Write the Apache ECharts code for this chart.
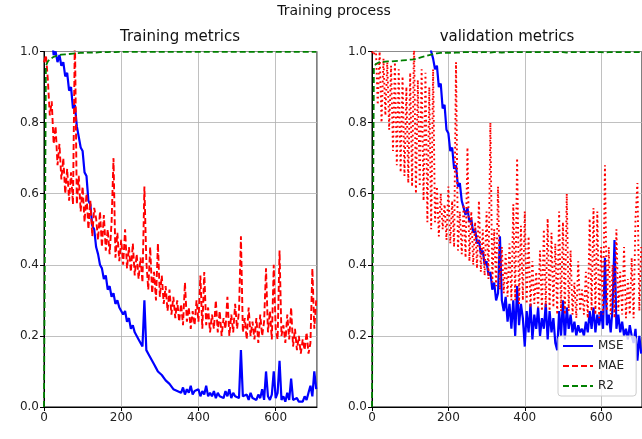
<!DOCTYPE html>
<html>
<head>
<meta charset="utf-8">
<script src="https://cdn.jsdelivr.net/npm/echarts@6/dist/echarts.min.js"></script>
<style>
html, body { margin: 0; padding: 0; background: #fff; }
#chart { width: 642px; height: 439px; }
</style>
</head>
<body>
<div id="chart"></div>
<script>
// one value every 5 epochs (rows of 10 = 50 epochs)
const epochStep = 5

const trainMse = [
  1.6, 1.4, 1.25, 1.12, 1.04, 0.99, 1.0, 0.97, 0.99, 0.96,
  0.97, 0.93, 0.94, 0.89, 0.90, 0.84, 0.85, 0.79, 0.79, 0.73,
  0.72, 0.66, 0.65, 0.58, 0.57, 0.51, 0.50, 0.45, 0.43, 0.40,
  0.39, 0.36, 0.37, 0.33, 0.34, 0.31, 0.32, 0.29, 0.30, 0.28,
  0.28, 0.26, 0.27, 0.24, 0.25, 0.22, 0.23, 0.21, 0.21, 0.19,
  0.19, 0.17, 0.30, 0.16, 0.15, 0.14, 0.13, 0.12, 0.11, 0.10,
  0.10, 0.09, 0.085, 0.075, 0.07, 0.065, 0.06, 0.05, 0.055, 0.045,
  0.05, 0.04, 0.055, 0.035, 0.05, 0.04, 0.06, 0.035, 0.045, 0.04,
  0.05, 0.03, 0.045, 0.035, 0.06, 0.03, 0.04, 0.03, 0.045, 0.025,
  0.04, 0.03, 0.035, 0.025, 0.045, 0.03, 0.05, 0.025, 0.04, 0.03,
  0.035, 0.025, 0.16, 0.03, 0.025, 0.035, 0.02, 0.04, 0.025, 0.03,
  0.02, 0.035, 0.025, 0.05, 0.02, 0.10, 0.03, 0.02, 0.035, 0.10,
  0.025, 0.04, 0.13, 0.02, 0.03, 0.015, 0.04, 0.02, 0.08, 0.02,
  0.015, 0.025, 0.015, 0.02, 0.015, 0.03, 0.02, 0.04, 0.06, 0.03,
  0.10, 0.05
]
const trainMae = [
  0.97, 0.99, 0.92, 0.82, 0.86, 0.74, 0.79, 0.68, 0.74, 0.64,
  0.70, 0.60, 0.67, 0.58, 0.66, 0.57, 1.05, 0.57, 0.65, 0.55,
  0.62, 0.52, 0.60, 0.50, 0.58, 0.48, 0.56, 0.53, 0.47, 0.55,
  0.45, 0.54, 0.44, 0.50, 0.43, 0.52, 0.70, 0.42, 0.49, 0.41,
  0.47, 0.40, 0.50, 0.39, 0.45, 0.38, 0.46, 0.37, 0.43, 0.36,
  0.42, 0.35, 0.62, 0.41, 0.33, 0.45, 0.32, 0.38, 0.30, 0.46,
  0.31, 0.37, 0.29, 0.34, 0.27, 0.33, 0.26, 0.31, 0.25, 0.30,
  0.24, 0.29, 0.23, 0.35, 0.24, 0.28, 0.22, 0.27, 0.23, 0.30,
  0.24, 0.37, 0.22, 0.38, 0.23, 0.28, 0.21, 0.26, 0.22, 0.30,
  0.21, 0.27, 0.20, 0.25, 0.22, 0.31, 0.20, 0.26, 0.21, 0.29,
  0.22, 0.27, 0.48, 0.21, 0.25, 0.19, 0.28, 0.20, 0.24, 0.19,
  0.25, 0.18, 0.26, 0.20, 0.24, 0.39, 0.21, 0.27, 0.19, 0.40,
  0.22, 0.19, 0.44, 0.20, 0.23, 0.18, 0.26, 0.19, 0.28, 0.17,
  0.22, 0.16, 0.20, 0.15, 0.19, 0.16, 0.21, 0.15, 0.18, 0.39,
  0.22, 0.30
]
const trainR2 = [
  0, 0.96, 0.972, 0.978, 0.982, 0.985, 0.987, 0.989, 0.99, 0.991,
  0.992, 0.992, 0.993, 0.993, 0.994, 0.994, 0.995, 0.995, 0.995, 0.996,
  0.996, 0.996, 0.996, 0.997, 0.997, 0.997, 0.997, 0.997, 0.998, 0.998,
  0.998, 0.998, 0.998, 0.998, 0.998, 0.999, 0.998, 0.998, 0.999, 0.999,
  0.999, 0.999, 0.999, 0.999, 0.999, 0.999, 0.999, 0.999, 0.999, 0.999,
  0.999, 0.999, 0.998, 0.999, 0.999, 0.999, 0.999, 0.999, 0.999, 0.999,
  0.999, 0.999, 0.999, 0.999, 0.999, 0.999, 0.999, 0.999, 0.999, 0.999,
  0.999, 0.999, 0.999, 0.999, 0.999, 0.999, 0.999, 0.999, 0.999, 0.999,
  0.999, 0.999, 0.999, 0.999, 0.999, 0.999, 0.999, 0.999, 0.999, 0.999,
  0.999, 0.999, 0.999, 0.999, 0.999, 0.999, 0.999, 0.999, 0.999, 0.999,
  0.999, 0.999, 0.998, 0.999, 0.999, 0.999, 0.999, 0.999, 0.999, 0.999,
  0.999, 0.999, 0.999, 0.999, 0.999, 0.999, 0.999, 0.999, 0.999, 0.999,
  0.999, 0.999, 0.998, 0.999, 0.999, 0.999, 0.999, 0.999, 0.999, 0.999,
  0.999, 0.999, 0.999, 0.999, 0.999, 0.999, 0.999, 0.999, 0.999, 0.999,
  0.999, 0.999
]

const valMse = [
  2.2, 2.1, 2.0, 1.95, 1.9, 1.85, 1.8, 1.75, 1.7, 1.65,
  1.6, 1.57, 1.53, 1.5, 1.46, 1.43, 1.4, 1.37, 1.34, 1.31,
  1.28, 1.25, 1.22, 1.2, 1.17, 1.14, 1.12, 1.09, 1.07, 1.05,
  1.03, 1.0, 0.98, 0.95, 0.96, 0.90, 0.91, 0.84, 0.85, 0.78,
  0.77, 0.72, 0.73, 0.67, 0.68, 0.62, 0.63, 0.58, 0.58, 0.54,
  0.56, 0.52, 0.53, 0.49, 0.50, 0.46, 0.47, 0.43, 0.44, 0.40,
  0.41, 0.37, 0.38, 0.33, 0.35, 0.30, 0.32, 0.48, 0.30, 0.27,
  0.31, 0.24, 0.29, 0.22, 0.30, 0.20, 0.34, 0.23, 0.29, 0.25,
  0.17, 0.27, 0.21, 0.29, 0.19, 0.26, 0.22, 0.28, 0.20, 0.25,
  0.22, 0.29, 0.19, 0.27, 0.21, 0.25, 0.18, 0.16, 0.27, 0.20,
  0.30, 0.19, 0.28, 0.22, 0.26, 0.21, 0.24, 0.20, 0.23, 0.21,
  0.22, 0.20, 0.24, 0.21, 0.27, 0.22, 0.28, 0.21, 0.26, 0.23,
  0.27, 0.22, 0.42, 0.23, 0.26, 0.21, 0.28, 0.47, 0.22, 0.26,
  0.21, 0.24, 0.20, 0.22, 0.19, 0.23, 0.20, 0.18, 0.22, 0.13,
  0.20, 0.15
]
const valMae = [
  1.0, 0.99, 1.02, 0.85, 1.0, 0.80, 0.98, 0.82, 0.97, 0.78,
  0.96, 0.72, 0.97, 0.68, 0.95, 0.66, 0.93, 0.65, 0.90, 0.63,
  0.94, 0.62, 1.03, 0.60, 0.92, 0.62, 0.95, 0.58, 0.94, 0.52,
  0.90, 0.50, 0.95, 0.52, 0.62, 0.48, 0.60, 0.50, 0.57, 0.47,
  0.62, 0.46, 0.58, 0.45, 0.97, 0.44, 0.55, 0.43, 0.57, 0.42,
  0.73, 0.41, 0.55, 0.40, 0.52, 0.39, 0.58, 0.38, 0.50, 0.37,
  0.55, 0.36, 0.80, 0.35, 0.50, 0.34, 0.62, 0.33, 0.45, 0.32,
  0.43, 0.31, 0.46, 0.30, 0.57, 0.30, 0.70, 0.29, 0.51, 0.30,
  0.55, 0.29, 0.48, 0.28, 0.41, 0.29, 0.38, 0.28, 0.44, 0.27,
  0.50, 0.28, 0.53, 0.27, 0.49, 0.28, 0.46, 0.26, 0.55, 0.27,
  0.52, 0.26, 0.60, 0.27, 0.44, 0.26, 0.35, 0.25, 0.41, 0.27,
  0.33, 0.26, 0.38, 0.25, 0.53, 0.27, 0.56, 0.26, 0.55, 0.25,
  0.45, 0.26, 0.68, 0.27, 0.45, 0.26, 0.40, 0.25, 0.50, 0.27,
  0.38, 0.26, 0.45, 0.25, 0.36, 0.26, 0.42, 0.25, 0.53, 0.63,
  0.27, 0.45
]
const valR2 = [
  0, 0.955, 0.965, 0.968, 0.97, 0.967, 0.971, 0.969, 0.972, 0.97,
  0.972, 0.971, 0.973, 0.972, 0.974, 0.973, 0.975, 0.974, 0.976, 0.975,
  0.977, 0.976, 0.978, 0.979, 0.981, 0.982, 0.984, 0.985, 0.987, 0.989,
  0.99, 0.992, 0.993, 0.994, 0.995, 0.995, 0.996, 0.996, 0.996, 0.997,
  0.997, 0.997, 0.996, 0.997, 0.997, 0.998, 0.997, 0.997, 0.998, 0.998,
  0.998, 0.997, 0.998, 0.998, 0.998, 0.998, 0.997, 0.998, 0.998, 0.998,
  0.998, 0.998, 0.997, 0.998, 0.998, 0.998, 0.998, 0.998, 0.997, 0.998,
  0.998, 0.998, 0.998, 0.998, 0.998, 0.997, 0.998, 0.998, 0.998, 0.998,
  0.998, 0.998, 0.998, 0.998, 0.998, 0.998, 0.998, 0.997, 0.998, 0.998,
  0.998, 0.998, 0.998, 0.998, 0.998, 0.998, 0.998, 0.998, 0.998, 0.998,
  0.998, 0.998, 0.997, 0.998, 0.998, 0.998, 0.998, 0.998, 0.998, 0.998,
  0.998, 0.998, 0.998, 0.998, 0.998, 0.998, 0.998, 0.998, 0.998, 0.998,
  0.998, 0.998, 0.997, 0.998, 0.998, 0.998, 0.998, 0.997, 0.998, 0.998,
  0.998, 0.998, 0.998, 0.998, 0.998, 0.998, 0.998, 0.998, 0.998, 0.998,
  0.998, 0.998
]

const epochs = trainMse.map((_, i) => i * epochStep)
const pairs = vals => vals.map((v, i) => [epochs[i], v])

const font = 'DejaVu Sans'
const chart = echarts.init(document.getElementById('chart'))

const xAxisFor = gridIndex => ({
  type: 'value', gridIndex, min: 0, max: 707, interval: 200,
  axisLine: { onZero: false, lineStyle: { color: '#000', width: 1 } },
  axisTick: { show: true, length: 4, lineStyle: { color: '#000' } },
  axisLabel: { color: '#222', fontSize: 12, fontFamily: font, margin: 5, showMaxLabel: false },
  splitLine: { show: true, lineStyle: { color: '#b0b0b0', width: 0.8 } }
})
const yAxisFor = gridIndex => ({
  type: 'value', gridIndex, min: 0, max: 1, interval: 0.2,
  axisLine: { show: true, onZero: false, lineStyle: { color: '#000', width: 1 } },
  axisTick: { show: true, length: 4, lineStyle: { color: '#000' } },
  axisLabel: { color: '#222', fontSize: 12, fontFamily: font, margin: 5, formatter: v => v.toFixed(1) },
  splitLine: { show: true, lineStyle: { color: '#b0b0b0', width: 0.8 } }
})

const line = (name, idx, vals, color, type, width, z) => ({
  name, type: 'line', xAxisIndex: idx, yAxisIndex: idx,
  data: pairs(vals), showSymbol: false, symbol: 'circle', z,
  lineStyle: { color, width, type },
  itemStyle: { color }
})

chart.setOption({
  animation: false,
  title: [
    { text: 'Training process', left: 334, top: 4, textAlign: 'center', padding: 0,
      textStyle: { fontSize: 14, fontWeight: 'normal', color: '#111', fontFamily: font } },
    { text: 'Training metrics', left: 180, top: 30, textAlign: 'center', padding: 0,
      textStyle: { fontSize: 15, fontWeight: 'normal', color: '#111', fontFamily: font } },
    { text: 'validation metrics', left: 507, top: 30, textAlign: 'center', padding: 0,
      textStyle: { fontSize: 15, fontWeight: 'normal', color: '#111', fontFamily: font } }
  ],
  grid: [
    { left: 44, top: 51.5, width: 273, height: 355.5, show: true, borderColor: '#000', borderWidth: 1 },
    { left: 372, top: 51.5, width: 273, height: 355.5, show: true, borderColor: '#000', borderWidth: 1 }
  ],
  xAxis: [xAxisFor(0), xAxisFor(1)],
  yAxis: [yAxisFor(0), yAxisFor(1)],
  legend: {
    data: ['MSE', 'MAE', 'R2'],
    orient: 'vertical', left: 558, top: 336,
    itemWidth: 30, itemHeight: 12, itemGap: 8,
    padding: [4, 12, 4, 4],
    backgroundColor: 'rgba(255,255,255,0.8)', borderColor: '#cccccc', borderWidth: 1, borderRadius: 3,
    itemStyle: { opacity: 0 },
    textStyle: { fontSize: 12, color: '#222', fontFamily: font }
  },
  series: [
    line('MSE', 0, trainMse, '#0000ff', 'solid', 2.2, 2),
    line('MAE', 0, trainMae, '#ff0000', [6, 3], 1.9, 3),
    line('R2', 0, trainR2, '#008000', [6, 3], 1.8, 4),
    line('MSE', 1, valMse, '#0000ff', 'solid', 2.2, 2),
    line('MAE', 1, valMae, '#ff0000', [1.8, 3], 1.9, 3),
    line('R2', 1, valR2, '#008000', [6, 3], 1.8, 4)
  ]
})
</script>
</body>
</html>
